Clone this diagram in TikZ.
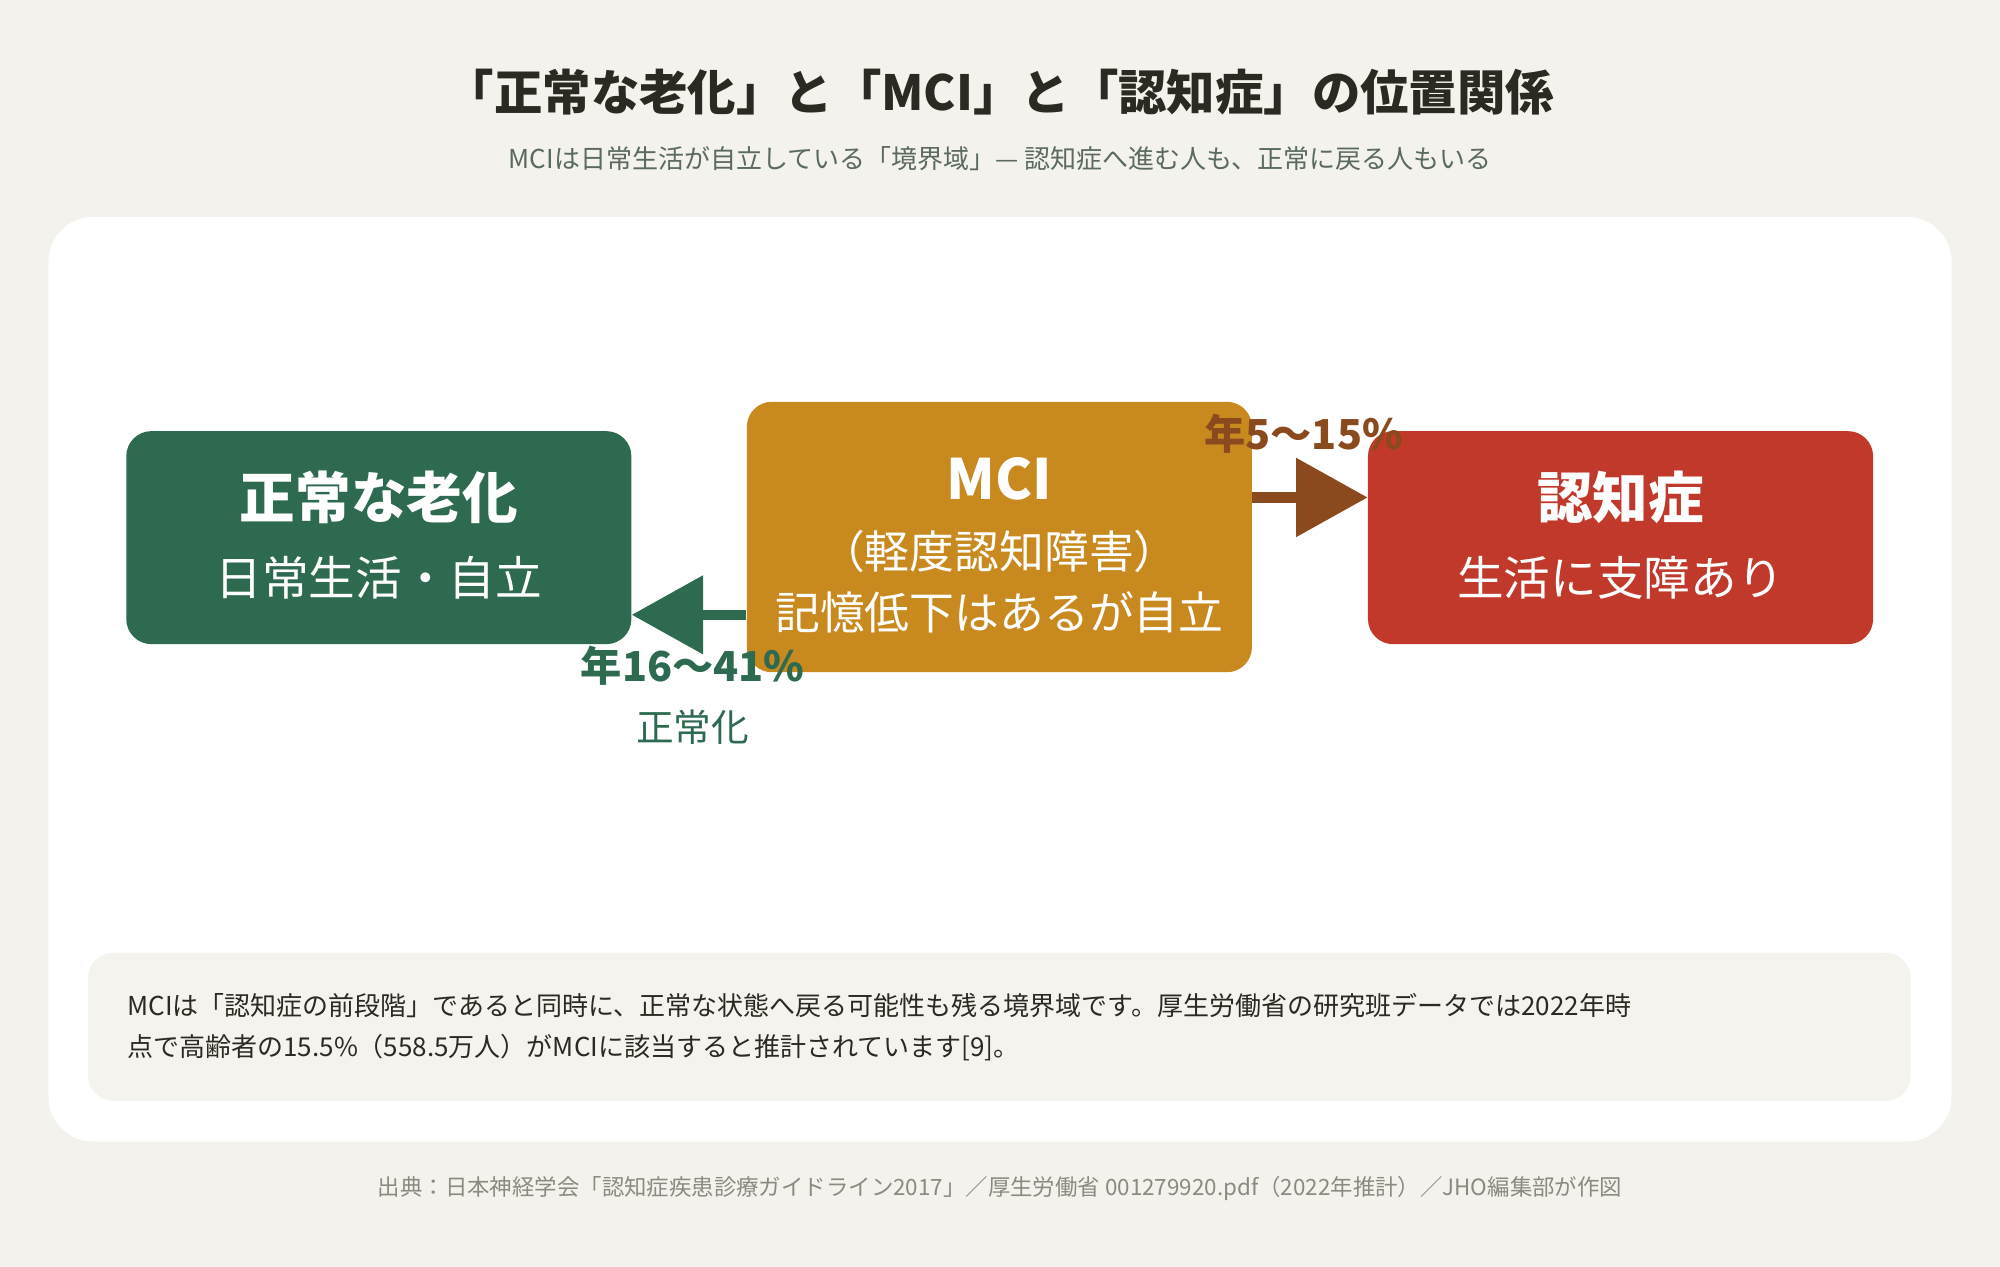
\documentclass[tikz,border=0pt]{standalone}
\usepackage{fontspec}
\setmainfont{Noto Sans CJK JP}
\usetikzlibrary{arrows.meta}
\definecolor{bgcol}{HTML}{F4F2EC}
\definecolor{inkcol}{HTML}{2A2A22}
\definecolor{subcol}{HTML}{5A6A60}
\definecolor{normcol}{HTML}{2D6A4F}
\definecolor{mcicol}{HTML}{C8891F}
\definecolor{demcol}{HTML}{C0392B}
\definecolor{progcol}{HTML}{8B4A1E}
\definecolor{notecol}{HTML}{F5F3EE}
\definecolor{srccol}{HTML}{8A8A80}
\newcommand{\fs}[1]{\fontsize{#1}{#1}\selectfont}
\begin{document}
\begin{tikzpicture}[x=0.25mm,y=-0.25mm]
    \tikzstyle{stage}=[rounded corners=14pt,minimum width=99mm,inner sep=0pt]
    \tikzstyle{head}=[text=white,font=\fs{31pt}\bfseries]
    \tikzstyle{sub}=[text=white,font=\fs{26pt}]
    \tikzstyle{flow}=[line width=2mm,-{Triangle[length=14mm,width=15mm]}]
    % background and panels
    \fill[bgcol] (0,0) rectangle (1568,993);
    \useasboundingbox (0,0) rectangle (1568,993);
    \fill[white,rounded corners=25] (38,170) rectangle (1530,895);
    \fill[notecol,rounded corners=14] (69,747) rectangle (1498,863);
    % title
    \node[text=inkcol,font=\fs{27pt}\bfseries] (title) at (784,72) {「正常な老化」と「MCI」と「認知症」の位置関係};
    \node[text=subcol,font=\fs{14.5pt}] (subtitle) at (784,124) {MCIは日常生活が自立している「境界域」— 認知症へ進む人も、正常に戻る人もいる};
    % stages
    \node[stage,fill=normcol,minimum height=41.75mm] (norm) at (297,421.5) {};
    \node[stage,fill=mcicol,minimum height=53mm] (mci) at (783.5,421) {};
    \node[stage,fill=demcol,minimum height=41.75mm] (dem) at (1270.5,421.5) {};
    \node[head] at (297,390) {正常な老化};
    \node[sub] at (297,453) {日常生活・自立};
    \node[head] at (783.5,375) {MCI};
    \node[sub,font=\fs{25pt}] at (783.5,432) {（軽度認知障害）};
    \node[sub,font=\fs{25pt}] at (783.5,480) {記憶低下はあるが自立};
    \node[head] at (1270.5,390) {認知症};
    \node[sub] at (1270.5,453) {生活に支障あり};
    % transitions
    \draw[flow,draw=progcol,fill=progcol] (mci.east|-0,390) -- (dem.west|-0,390);
    \draw[flow,draw=normcol,fill=normcol] (mci.west|-0,482) -- (norm.east|-0,482);
    \node[text=progcol,font=\fs{23pt}\bfseries] (prograte) at (1022,340) {年5〜15\%};
    \node[text=normcol,font=\fs{23pt}\bfseries] (backrate) at (543,522) {年16〜41\%};
    \node[text=normcol,font=\fs{21pt}] (backlabel) at (543,570) {正常化};
    % note and source
    \node[text=inkcol,font=\fs{14.5pt},align=left,anchor=west,text width=360mm] (note) at (95,805)
        {MCIは「認知症の前段階」であると同時に、正常な状態へ戻る可能性も残る境界域です。厚生労働省の研究班データでは2022年時\\[3mm]点で高齢者の15.5\%（558.5万人）がMCIに該当すると推計されています[9]。};
    \node[text=srccol,font=\fs{12.5pt}] (source) at (784,932) {出典：日本神経学会「認知症疾患診療ガイドライン2017」／厚生労働省 001279920.pdf（2022年推計）／JHO編集部が作図};
\end{tikzpicture}
\end{document}
